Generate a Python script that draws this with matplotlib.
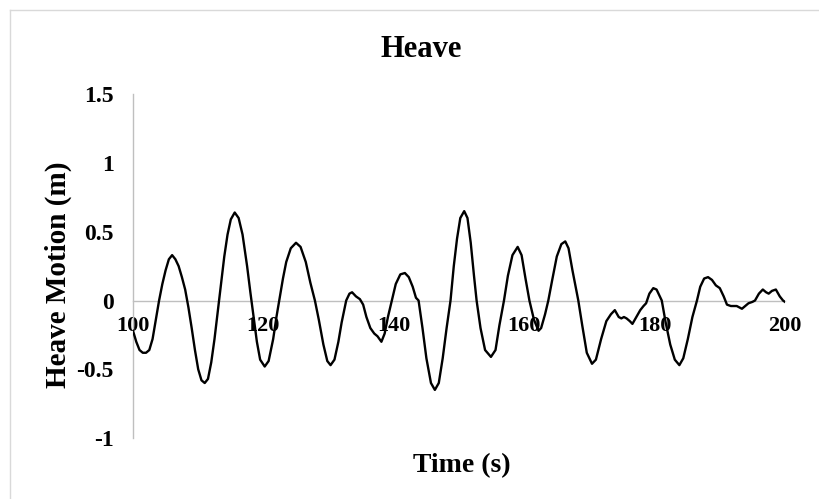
import matplotlib
matplotlib.use("Agg")
import matplotlib.pyplot as plt
from matplotlib.lines import Line2D

plt.rcParams["font.family"] = ["Liberation Serif", "DejaVu Serif"]
plt.rcParams["font.weight"] = "bold"

# Heave time history
time_s = [
    100.0, 100.5, 101.0, 101.5, 102.0, 102.5, 103.0, 103.5, 104.0, 104.5,
    105.0, 105.5, 106.0, 106.5, 107.0, 107.5, 108.0, 108.5, 109.0, 109.5,
    110.0, 110.5, 111.0, 111.5, 112.0, 112.5, 113.0, 113.5, 114.0, 114.5,
    115.0, 115.6, 116.2, 116.8, 117.5, 118.0, 118.5, 119.0, 119.5, 120.2,
    120.8, 121.5, 122.0, 122.5, 123.0, 123.5, 124.2, 125.0, 125.7, 126.5,
    127.2, 127.9, 128.5, 129.2, 129.8, 130.3, 130.9, 131.5, 132.0, 132.7,
    133.2, 133.6, 134.2, 134.8, 135.3, 135.8, 136.4, 137.0, 137.5, 138.1,
    138.6, 139.1, 139.7, 140.3, 141.0, 141.7, 142.3, 142.9, 143.4, 143.8,
    144.4, 145.0, 145.7, 146.3, 146.9, 147.5, 148.1, 148.7, 149.2, 149.7,
    150.2, 150.8, 151.3, 151.8, 152.3, 152.7, 153.3, 154.0, 154.9, 155.6,
    156.2, 156.9, 157.5, 158.2, 159.0, 159.6, 160.2, 160.8, 161.5, 162.2,
    162.6, 163.2, 163.7, 164.3, 165.0, 165.7, 166.3, 166.8, 167.4, 168.3,
    168.9, 169.6, 170.4, 171.0, 171.8, 172.6, 173.3, 173.9, 174.5, 174.9,
    175.3, 175.7, 176.2, 176.6, 177.2, 177.8, 178.3, 178.7, 179.2, 179.8,
    180.3, 180.7, 181.1, 181.7, 182.4, 183.1, 183.8, 184.4, 185.1, 185.8,
    186.5, 187.0, 187.6, 188.2, 188.8, 189.4, 190.0, 190.6, 191.1, 191.7,
    192.2, 192.6, 193.0, 193.4, 193.9, 194.4, 195.0, 195.4, 196.0, 196.6,
    197.1, 197.5, 198.0, 198.6, 199.2, 199.7, 200.0,
]
heave_m = [
    -0.22, -0.30, -0.36, -0.38, -0.38, -0.36, -0.28, -0.14, 0.00, 0.12,
    0.22, 0.30, 0.33, 0.30, 0.25, 0.17, 0.08, -0.05, -0.20, -0.36,
    -0.50, -0.58, -0.60, -0.57, -0.45, -0.28, -0.08, 0.12, 0.32, 0.48,
    0.59, 0.64, 0.60, 0.48, 0.25, 0.06, -0.12, -0.30, -0.43, -0.48,
    -0.44, -0.28, -0.12, 0.02, 0.16, 0.28, 0.38, 0.42, 0.39, 0.28,
    0.13, 0.00, -0.14, -0.32, -0.44, -0.47, -0.43, -0.30, -0.16, 0.00,
    0.05, 0.06, 0.03, 0.01, -0.03, -0.12, -0.20, -0.24, -0.26, -0.30,
    -0.24, -0.12, 0.00, 0.12, 0.19, 0.20, 0.17, 0.10, 0.02, 0.00,
    -0.20, -0.42, -0.60, -0.65, -0.60, -0.42, -0.20, 0.00, 0.25, 0.45,
    0.60, 0.65, 0.60, 0.42, 0.18, 0.00, -0.20, -0.36, -0.41, -0.36,
    -0.18, 0.00, 0.18, 0.33, 0.39, 0.33, 0.16, 0.00, -0.14, -0.22,
    -0.20, -0.10, 0.00, 0.15, 0.32, 0.41, 0.43, 0.38, 0.22, 0.00,
    -0.18, -0.38, -0.46, -0.43, -0.28, -0.15, -0.10, -0.07, -0.12, -0.13,
    -0.12, -0.13, -0.15, -0.17, -0.12, -0.07, -0.04, -0.02, 0.05, 0.09,
    0.08, 0.04, 0.00, -0.16, -0.32, -0.43, -0.47, -0.42, -0.28, -0.12,
    0.00, 0.10, 0.16, 0.17, 0.15, 0.11, 0.09, 0.03, -0.03, -0.04,
    -0.04, -0.04, -0.05, -0.06, -0.04, -0.02, -0.01, 0.00, 0.05, 0.08,
    0.06, 0.05, 0.07, 0.08, 0.03, 0.00, -0.01,
]

x_ticks = [100, 120, 140, 160, 180, 200]
y_ticks = [-1, -0.5, 0, 0.5, 1, 1.5]
y_tick_labels = ["-1", "-0.5", "0", "0.5", "1", "1.5"]

fig = plt.figure(figsize=(8.2, 4.99), dpi=100)
ax = fig.add_axes([0.1622, 0.1222, 0.7951, 0.6889])

ax.plot(time_s, heave_m, color="black", linewidth=1.7, zorder=5,
        solid_joinstyle="round")

ax.set_xlim(100, 200)
ax.set_ylim(-1, 1.5)
ax.set_xticks(x_ticks)
ax.set_yticks(y_ticks)
ax.set_yticklabels(y_tick_labels)

grey = "#BFBFBF"
for side in ["top", "right"]:
    ax.spines[side].set_visible(False)
ax.spines["left"].set_color(grey)
ax.spines["left"].set_linewidth(1.0)
ax.spines["bottom"].set_position(("data", 0))
ax.spines["bottom"].set_color(grey)
ax.spines["bottom"].set_linewidth(1.0)

ax.tick_params(axis="y", length=0, pad=14, labelsize=17)
ax.tick_params(axis="x", length=0, pad=11, labelsize=16)
for lab in ax.get_xticklabels() + ax.get_yticklabels():
    lab.set_fontweight("bold")

# chart area border (top and left edges visible)
fig.add_artist(Line2D([0.0122, 1.0], [0.980, 0.980], color="#D9D9D9", linewidth=1.0))
fig.add_artist(Line2D([0.0122, 0.0122], [0.0, 0.980], color="#D9D9D9", linewidth=1.0))

fig.text(0.5134, 1 - 57 / 499, "Heave", ha="center", va="baseline",
         fontsize=22, fontweight="bold")
fig.text(0.5628, 1 - 472 / 499, "Time (s)", ha="center", va="baseline",
         fontsize=20, fontweight="bold")
fig.text(0.0707, 1 - 275 / 499, "Heave Motion (m)", ha="center", va="center",
         rotation=90, fontsize=21, fontweight="bold")

fig.savefig("out.png", dpi=100)
